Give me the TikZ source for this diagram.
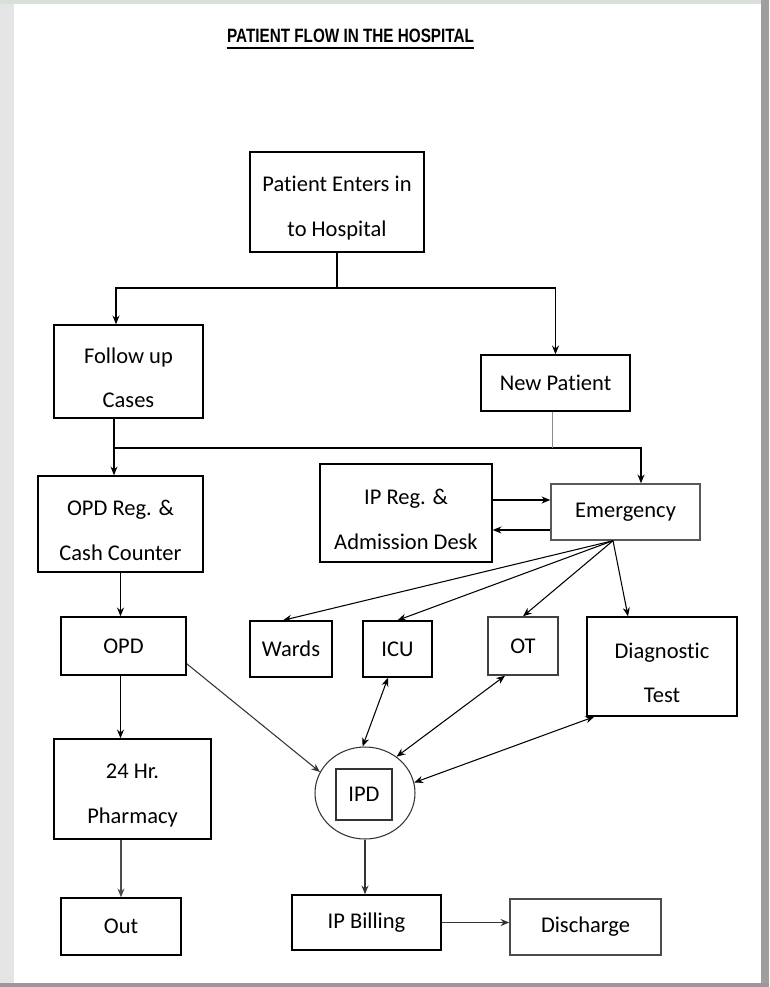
\documentclass[tikz,border=0pt]{standalone}
\usepackage{fontspec}
\setmainfont{Carlito}[Ligatures=NoCommon]
\newfontfamily\titlefont{Liberation Sans}
\usetikzlibrary{calc,arrows.meta,shapes.geometric}
\newcommand\hi{\rule{0pt}{16pt}}

\begin{document}
\begin{tikzpicture}[x=0.02cm,y=-0.02cm,
		box/.style={draw, line width=0.8pt, inner sep=0pt, align=center, font=\fontsize{12.8}{25.5}\selectfont},
		arr/.style={line width=0.6pt, -{Stealth[length=5pt,width=4pt]}},
		both/.style={line width=0.6pt, {Stealth[length=5pt,width=4pt]}-{Stealth[length=5pt,width=4pt]}}]
			%%%%% PAGE %%%%%
			\useasboundingbox (0,0) rectangle (769,987);
			\fill[black!10] (0,0) rectangle (769,987);
			\fill[green!20!black!15] (0,0) rectangle (769,4);
			\fill[black!38] (761,0) rectangle (769,987);
			\fill[black!40] (0,983) rectangle (769,987);
			\fill[white] (14,4) rectangle (761,983);
			
			\node[font=\titlefont\bfseries\fontsize{11}{13}\selectfont, inner sep=0pt] (title) at (350.5,35.5) {\scalebox{0.79}[1]{PATIENT FLOW IN THE HOSPITAL}};
			\draw[line width=1.5pt] ([yshift=-3pt]title.south west) -- ([yshift=-3pt]title.south east);
			
			%%%%% BOXES %%%%%
			\node[box, minimum width=3.48cm, minimum height=2cm] (enter) at (337,202) {\hi Patient Enters in\\to Hospital};
			\node[box, minimum width=2.98cm, minimum height=1.86cm] (follow) at (128.5,371.5) {\hi Follow up\\Cases};
			\node[box, minimum width=2.98cm, minimum height=1.12cm] (newp) at (555.5,383) {New Patient};
			
			\node[box, minimum width=3.3cm, minimum height=1.92cm] (opdreg) at (120.5,524) {\hi OPD Reg. \&\\Cash Counter};
			\node[box, minimum width=3.44cm, minimum height=1.96cm] (ipreg) at (406,513) {\hi IP Reg. \&\\Admission Desk};
			\node[box, draw=black!65, minimum width=2.98cm, minimum height=1.12cm] (emerg) at (625.5,512) {Emergency};
			
			\node[box, minimum width=2.5cm, minimum height=1.16cm] (opd) at (123.5,646) {OPD};
			\node[box, minimum width=1.64cm, minimum height=1.12cm] (wards) at (291,649) {Wards};
			\node[box, minimum width=1.38cm, minimum height=1.12cm] (icu) at (397.5,649) {ICU};
			\node[box, draw=black!75, minimum width=1.4cm, minimum height=1.16cm] (ot) at (523,646) {OT};
			\node[box, minimum width=3cm, minimum height=1.98cm] (diag) at (662,666.5) {\hi Diagnostic\\Test};
			
			\node[box, minimum width=3.14cm, minimum height=2cm] (pharm) at (132.5,789) {\hi 24 Hr.\\Pharmacy};
			\node[draw=black!80, line width=0.6pt, ellipse, minimum width=2cm, minimum height=1.84cm, inner sep=0pt] (ipd) at (365,793) {};
			\node[box, draw=black!80, line width=0.6pt, minimum width=1.12cm, minimum height=1.02cm] (ipdbox) at (364,794.5) {IPD};
			
			\node[box, minimum width=2.4cm, minimum height=1.14cm] (out) at (121,926.5) {Out};
			\node[box, minimum width=2.98cm, minimum height=1.1cm] (bill) at (366.5,922.5) {IP Billing};
			\node[box, draw=black!70, minimum width=3.02cm, minimum height=1.12cm] (disch) at (585.5,927) {Discharge};
			
			%%%%% TOP SPLIT %%%%%
			\coordinate (split) at (337,288);
			\draw[line width=0.6pt] (enter.south) -- (split);
			\draw[arr] (split) -| ([xshift=-0.25cm]follow.north);
			\draw[arr] (split) -| (newp.north);
			
			\coordinate (junc) at (114,448);
			\draw[line width=0.6pt] (follow.south -| junc) -- (junc);
			\draw[arr] (junc) -- (junc |- opdreg.north);
			\draw[arr] (junc) -| ([xshift=0.31cm]emerg.north);
			\draw[line width=0.4pt, black!45] ([xshift=-0.07cm]newp.south) -- ([xshift=-0.07cm]newp.south |- junc);
			
			%%%%% EMERGENCY %%%%%
			\draw[arr] ([yshift=0.26cm]ipreg.east) -- ([yshift=0.26cm]ipreg.east -| emerg.west);
			\draw[arr] ([yshift=-0.34cm]ipreg.east -| emerg.west) -- ([yshift=-0.34cm]ipreg.east);
			
			\coordinate (efan) at ([xshift=-0.25cm]emerg.south);
			\draw[arr] (efan) -- ([xshift=-0.16cm]wards.north);
			\draw[arr] (efan) -- (icu.north);
			\draw[arr] (efan) -- (ot.north);
			\draw[arr] (efan) -- ([xshift=-0.68cm]diag.north);
			
			%%%%% OPD SIDE %%%%%
			\draw[arr] (opdreg.south) -- (opdreg.south |- opd.north);
			\draw[arr] (opdreg.south |- opd.south) -- (opdreg.south |- pharm.north);
			\draw[arr, black!70] (out.north |- pharm.south) -- (out.north);
			\draw[arr, black!80] ([yshift=0.24cm]opd.south east) -- (ipd.155);
			
			%%%%% IPD %%%%%
			\draw[both] ([xshift=-0.19cm]icu.south) -- (ipd.93);
			\draw[both] ([xshift=-0.36cm]ot.south) -- (ipd.49);
			\draw[both] ([xshift=0.16cm]diag.south west) -- (ipd.12);
			\draw[arr, black!80] (ipd.south) -- (ipd.south |- bill.north);
			\draw[arr, black!80] (bill.east) -- (bill.east -| disch.west);
			
			%%%%% END %%%%%
		\end{tikzpicture}
\end{document}
